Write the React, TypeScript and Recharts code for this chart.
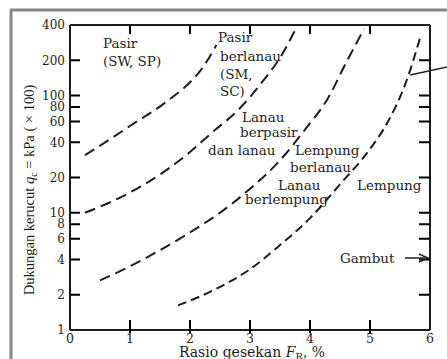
import { LineChart, Line, XAxis, YAxis, ReferenceLine } from 'recharts';

const xTicks = [0, 1, 2, 3, 4, 5, 6];
const yTicks = [1, 2, 4, 6, 8, 10, 20, 40, 60, 80, 100, 200, 400];
const innerXTicks = [1, 2, 3, 4, 5];
const innerYTicks = [2, 4, 6, 8, 10, 20, 40, 60, 80, 100, 200];

// batas zona (Fr %, qc x 100 kPa)
const pasirLine = [
  { x: 0.25, y: 31 }, { x: 0.45, y: 36 }, { x: 1.0, y: 55 }, { x: 1.6, y: 88 },
  { x: 2.0, y: 130 }, { x: 2.2, y: 170 }, { x: 2.44, y: 270 },
];
const lanauPasirLine = [
  { x: 0.25, y: 10 }, { x: 0.7, y: 12.5 }, { x: 1.2, y: 17 }, { x: 1.6, y: 23 },
  { x: 2.0, y: 33 }, { x: 2.4, y: 50 }, { x: 2.8, y: 75 }, { x: 3.2, y: 130 },
  { x: 3.5, y: 210 }, { x: 3.75, y: 360 },
];
const lempungLanauLine = [
  { x: 0.5, y: 2.65 }, { x: 1.0, y: 3.5 }, { x: 1.5, y: 4.8 }, { x: 2.0, y: 6.8 },
  { x: 2.5, y: 10 }, { x: 3.0, y: 16 }, { x: 3.5, y: 28 }, { x: 3.9, y: 50 },
  { x: 4.3, y: 95 }, { x: 4.6, y: 190 }, { x: 4.9, y: 370 },
];
const lempungLine = [
  { x: 1.8, y: 1.62 }, { x: 2.4, y: 2.2 }, { x: 3.0, y: 3.3 }, { x: 3.5, y: 5.3 },
  { x: 4.0, y: 9 }, { x: 4.5, y: 17.5 }, { x: 5.0, y: 35 }, { x: 5.3, y: 60 },
  { x: 5.6, y: 130 }, { x: 5.85, y: 330 },
];
const pointerLine = [{ x: 5.67, y: 150 }, { x: 6.3, y: 176 }];

const zoneLabels = [
  { text: 'Pasir', x: 103, y: 48 },
  { text: '(SW, SP)', x: 103, y: 66 },
  { text: 'Pasir', x: 218, y: 42 },
  { text: 'berlanau', x: 220, y: 61 },
  { text: '(SM,', x: 220, y: 79 },
  { text: 'SC)', x: 220, y: 96 },
  { text: 'Lanau', x: 242, y: 122 },
  { text: 'berpasir', x: 240, y: 137 },
  { text: 'dan lanau', x: 208, y: 155 },
  { text: 'Lempung', x: 295, y: 155 },
  { text: 'berlanau', x: 290, y: 172 },
  { text: 'Lanau', x: 278, y: 190 },
  { text: 'berlempung', x: 245, y: 204 },
  { text: 'Lempung', x: 357, y: 190 },
  { text: 'Gambut', x: 340, y: 263 },
];

const serif = 'DejaVu Serif';
const ink = '#1e1e1e';
const dash = '11 6';

// kotak plot (sama dengan margin + lebar sumbu di bawah)
const plot = { left: 70, right: 430, top: 25, bottom: 330 };
const px = (x: number) => plot.left + (x / 6) * (plot.right - plot.left);
const py = (v: number) => plot.bottom - (Math.log10(v) / Math.log10(400)) * (plot.bottom - plot.top);

// semua tick di dalam bingkai sebagai satu path
const tickPath = [
  ...innerYTicks.map((v) => `M${plot.left},${py(v)}H${plot.left + 10}`),
  ...innerYTicks.map((v) => `M${plot.right - 11},${py(v)}H${plot.right}`),
  ...innerXTicks.map((v) => `M${px(v)},${plot.top}V${plot.top + 9}`),
  ...innerXTicks.map((v) => `M${px(v)},${plot.bottom - 10}V${plot.bottom + 3}`),
].join(' ');

const LeftTick = (props: any) => (
  <text x={Number(props.x)} y={Number(props.y)} dy={4.3} textAnchor="end" fontFamily={serif} fontSize={12} fill={ink}>
    {props.payload.value}
  </text>
);

const BottomTick = (props: any) => (
  <text x={Number(props.x)} y={Number(props.y) + 10} textAnchor="middle" fontFamily={serif} fontSize={12.5} fill={ink}>
    {props.payload.value}
  </text>
);

export default function App() {
  return (
    <div style={{ position: 'absolute', left: 0, top: 0, width: 447, height: 359, background: '#fff' }}>
      <LineChart width={447} height={359} margin={{ top: 10, right: 0, bottom: 0, left: 0 }}>
        <XAxis
          dataKey="x"
          type="number"
          domain={[0, 6]}
          ticks={xTicks}
          interval={0}
          height={29}
          tickSize={0}
          tickMargin={3}
          tick={<BottomTick />}
          tickLine={false}
          axisLine={{ stroke: ink, strokeWidth: 2 }}
        />
        <XAxis
          xAxisId="top"
          orientation="top"
          dataKey="x"
          type="number"
          domain={[0, 6]}
          height={15}
          tick={false}
          tickLine={false}
          axisLine={{ stroke: ink, strokeWidth: 2 }}
        />
        <YAxis
          scale="log"
          domain={[1, 400]}
          ticks={yTicks}
          interval={0}
          width={70}
          tickSize={0}
          tickMargin={5}
          tick={<LeftTick />}
          tickLine={false}
          axisLine={{ stroke: ink, strokeWidth: 2 }}
        />
        <YAxis
          yAxisId="right"
          orientation="right"
          scale="log"
          domain={[1, 400]}
          width={17}
          tick={false}
          tickLine={false}
          axisLine={{ stroke: ink, strokeWidth: 2 }}
        />
        <Line data={pasirLine} dataKey="y" type="monotone" stroke={ink} strokeWidth={2} strokeDasharray={dash} dot={false} isAnimationActive={false} />
        <Line data={lanauPasirLine} dataKey="y" type="monotone" stroke={ink} strokeWidth={2} strokeDasharray={dash} dot={false} isAnimationActive={false} />
        <Line data={lempungLanauLine} dataKey="y" type="monotone" stroke={ink} strokeWidth={2} strokeDasharray={dash} dot={false} isAnimationActive={false} />
        <Line data={lempungLine} dataKey="y" type="monotone" stroke={ink} strokeWidth={2} strokeDasharray="9 5" dot={false} isAnimationActive={false} />
        <ReferenceLine segment={pointerLine} stroke={ink} strokeWidth={1.5} ifOverflow="visible" />
      </LineChart>
      <svg width={447} height={359} style={{ position: 'absolute', left: 0, top: 0, pointerEvents: 'none' }}>
        <line x1={11} y1={10} x2={11} y2={359} stroke="#858585" strokeWidth={3} />
        <line x1={10} y1={10} x2={447} y2={10} stroke="#858585" strokeWidth={3} />
        <path d={tickPath} fill="none" stroke="#000" strokeWidth={2} />
        {zoneLabels.map((l, i) => (
          <text key={i} x={l.x} y={l.y} fontFamily={serif} fontSize={13.5} fill={ink}>{l.text}</text>
        ))}
        <line x1={405} y1={258} x2={425} y2={258} stroke={ink} strokeWidth={1.5} />
        <path d="M419,254 L428,258 L419,262" fill="none" stroke={ink} strokeWidth={1.5} />
        <text
          transform="translate(34,190) rotate(-90)"
          textAnchor="middle"
          fontFamily="Liberation Serif"
          fontSize={14.5}
          fill={ink}
        >
          Dukungan kerucut <tspan fontStyle="italic">q</tspan>
          <tspan fontSize={10} dy={3}>c</tspan>
          <tspan dy={-3}> = kPa ( × 100)</tspan>
        </text>
        <text x={252} y={357} textAnchor="middle" fontFamily={serif} fontSize={14} fill={ink}>
          Rasio gesekan <tspan fontStyle="italic">F</tspan>
          <tspan fontSize={10} dy={3}>R</tspan>
          <tspan dy={-3}>, %</tspan>
        </text>
      </svg>
    </div>
  );
}
